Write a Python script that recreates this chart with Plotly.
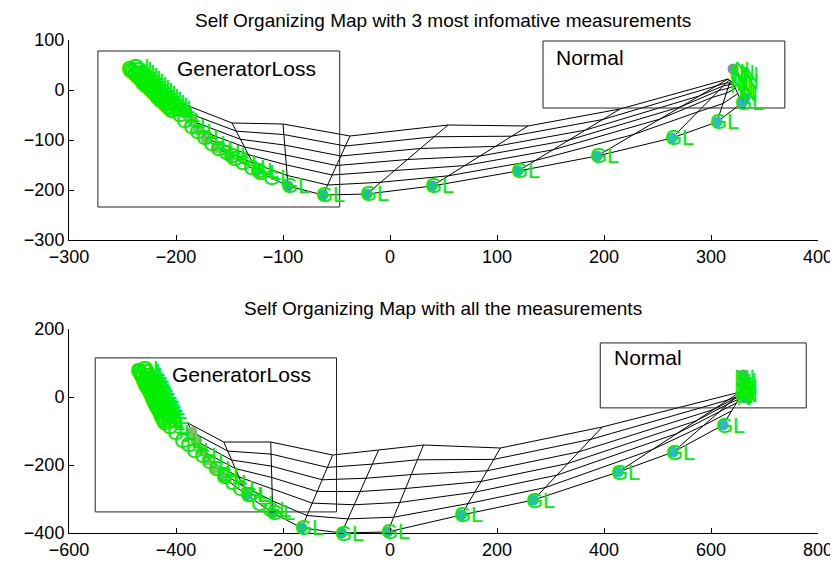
import plotly.graph_objects as go

FONT_FAMILY = "Liberation Sans, Arial, sans-serif"
GREEN = "#00ee00"

# the page body has an 8px margin, so the figure is laid out from (8, 8)
FIG_W = 830
FIG_H = 557
OFFSET = 8

TITLE_TOP = "Self Organizing Map with 3 most infomative measurements"
TITLE_BOTTOM = "Self Organizing Map with all the measurements"

# SOM grid, 7 rows x 11 columns; row 0 = upper edge of the map, row 6 = lower edge
TOP_GRID_X = [
    [-193, -147.7, -100, -37.4, 54.2, 129, 215, 316, 317, 318, 320],
    [-190, -143.7, -99.2, -41.7, 41.3, 113.8, 198.8, 303.8, 314.3, 317.4, 320.5],
    [-185, -139.7, -98.4, -46, 28.5, 98.5, 182.6, 289, 311.7, 316.8, 320.9],
    [-179, -136, -97.6, -50, 16.4, 84.2, 167.3, 271.9, 307.4, 315.8, 321.6],
    [-172, -132.3, -96.9, -54, 4.2, 69.8, 152, 252.3, 301, 314.3, 322.7],
    [-162, -128.3, -96.1, -58.3, -8.6, 54.5, 135.8, 227.8, 287.6, 311.2, 325],
    [-149.5, -124.3, -95.3, -62.6, -21.5, 39.3, 119.6, 193.5, 263.6, 305.6, 329],
]
TOP_GRID_Y = [
    [-28, -66, -68, -92, -70, -72, -38, 22, 20, 18, 16],
    [-45, -82.3, -89.1, -112, -93.5, -92.4, -59, 6.6, 14.2, 13.9, 13.9],
    [-62, -98.6, -110.2, -132, -117, -112.8, -80.2, -11.9, 8.4, 9.8, 11.8],
    [-80, -114, -130, -151, -139, -132, -100, -33.4, -0.9, 3.2, 8.4],
    [-97, -129.4, -149.8, -170, -161, -151.2, -119.8, -58.1, -14.8, -6.6, 3.4],
    [-115, -145.7, -170.9, -190, -184.5, -171.6, -141, -88.9, -43.8, -27.1, -7.1],
    [-132, -162, -192, -210, -208, -192, -162, -132, -96, -64, -26],
]

BOTTOM_GRID_X = [
    [-377.9, -310.7, -222.9, -107.2, -21.3, 62.7, 206.4, 396.8, 654.4, 656, 658],
    [-370, -303.4, -222.3, -117, -33, 51.3, 194, 374.9, 631.6, 649.7, 656.2],
    [-362, -296.1, -221.6, -126.9, -44.8, 39.9, 181.7, 353, 604.3, 643.3, 654.5],
    [-352, -289.2, -221, -136.1, -55.9, 29.1, 170, 332.4, 572.4, 633.2, 651.6],
    [-342, -282.3, -220.5, -145.3, -66.9, 18.3, 158.4, 311.8, 536, 618, 647.4],
    [-328, -275, -219.8, -155.2, -78.7, 6.9, 146, 289.9, 490.5, 586.4, 638.6],
    [-312.5, -267.7, -219.2, -165, -90.4, -4.5, 133.6, 268, 426.7, 529.4, 622.7],
]
BOTTOM_GRID_Y = [
    [-76.5, -132.4, -132.4, -170.6, -155.9, -141.2, -150, -88.2, 14.7, 12, 10],
    [-103, -158.9, -167.9, -207, -197.4, -184.7, -183.5, -124.7, -8.8, 3.3, 5.4],
    [-130, -185.3, -203.3, -243.5, -238.9, -228.2, -217, -161.2, -37.1, -5.4, 0.8],
    [-158, -210.2, -236.7, -277.8, -278, -269.1, -248.5, -195.6, -70, -19.3, -6.6],
    [-185, -235.1, -270.1, -312.1, -317, -310, -280, -230, -107.7, -40.1, -17.7],
    [-210, -261.5, -305.5, -348.6, -358.5, -353.5, -313.5, -266.5, -154.7, -83.6, -40.8],
    [-235, -288, -341, -385, -400, -397, -347, -303, -220.6, -161.8, -82.4],
]

# GeneratorLoss samples piled up in the left cluster
TOP_GL_X = [-245, -243.5, -242, -240.5, -239, -237.5, -236, -235, -234, -232.5, -231, -229.5, -228, -226.5,
            -225, -223.5, -222, -221, -220, -218.5, -217, -215.5, -214, -212.5, -211, -209.5, -208, -207, -206,
            -239, -236, -234, -231, -228, -225, -222, -220, -217, -214, -211, -208, -206, -203, -200,
            -198, -193, -187, -181, -175, -168, -162, -154, -147, -139, -131, -122, -112]
TOP_GL_Y = [42, 39, 36, 33, 30, 27, 24, 21, 18, 15, 12, 9, 6, 3,
            0, -3, -6, -9, -12, -15, -18, -21, -24, -27, -30, -33, -36, -39, -42,
            46, 40, 34, 28, 22, 16, 10, 4, -2, -8, -14, -20, -26, -32, -38,
            -50, -62, -74, -84, -96, -108, -118, -126, -138, -146, -156, -166, -176]
BOTTOM_GL_X = [-473, -471, -469, -468, -466, -464, -462, -460, -458, -456, -454, -453, -451, -449,
               -447, -445, -443, -441, -440, -438, -436, -434, -432, -430, -428, -426, -425,
               -462, -458, -454, -451, -447, -443, -440, -436, -432, -428, -425, -421, -417,
               -415, -404, -391, -380, -369, -354, -341, -328, -313, -298, -283, -266, -247, -227]
BOTTOM_GL_Y = [79, 74, 68, 62, 56, 50, 44, 38, 32, 27, 21, 15, 9, 3,
               -3, -9, -15, -21, -27, -33, -38, -44, -50, -56, -62, -68, -74,
               85, 74, 62, 50, 38, 27, 15, 3, -9, -21, -32, -44, -56,
               -88, -103, -127, -141, -156, -171, -191, -209, -229, -250, -268, -288, -312, -332]

# Normal samples
TOP_N_X = [316, 318, 320, 322, 324, 326, 328, 329, 317, 321, 325, 329]
TOP_N_Y = [36, 28, 20, 12, 4, -4, -10, 30, 8, 40, 34, 16]
BOTTOM_N_X = [641, 644, 647, 650, 653, 656, 642, 648, 654, 645, 651, 656]
BOTTOM_N_Y = [56, 46, 36, 26, 16, 6, 20, 4, 50, 0, 58, 30]

# extra map units inside the Normal cluster
TOP_NORMAL_UNIT_X = [320.6, 331.8]
TOP_NORMAL_UNIT_Y = [42, -16]
BOTTOM_NORMAL_UNIT_X = [660, 664]
BOTTOM_NORMAL_UNIT_Y = [65, -3]

EDGE_UNIT_COLORS = ["#5fbf6f", "#30c27a", "#22c080", "#1fc08a", "#1fc094", "#20c09c",
                    "#22c0a6", "#25bfb0", "#2abfc0", "#30b8cc", "#3aaedc"]
LEFT_UNIT_COLOR = "#8fb77a"
NORMAL_UNIT_COLORS = ["#8a80e6", "#3a9fe0"]


def px_x(p):
    return (p - OFFSET) / FIG_W


def px_y(p):
    return 1 - (p - OFFSET) / FIG_H


def mesh_lines(gx, gy):
    xs, ys = [], []
    for r in range(len(gx)):
        xs += gx[r] + [None]
        ys += gy[r] + [None]
    for c in range(len(gx[0])):
        xs += [row[c] for row in gx] + [None]
        ys += [row[c] for row in gy] + [None]
    return xs, ys


def add_som(fig, gx, gy, gl_x, gl_y, n_x, n_y, nu_x, nu_y, xref, yref):
    lx, ly = mesh_lines(gx, gy)
    fig.add_trace(go.Scatter(x=lx, y=ly, mode="lines", xaxis=xref, yaxis=yref,
                             line=dict(color="black", width=1), hoverinfo="skip"))

    unit_x = [row[0] for row in gx[1:6]] + gx[6] + nu_x
    unit_y = [row[0] for row in gy[1:6]] + gy[6] + nu_y
    colors = [LEFT_UNIT_COLOR] * 5 + EDGE_UNIT_COLORS + NORMAL_UNIT_COLORS
    fig.add_trace(go.Scatter(x=unit_x, y=unit_y, mode="markers", xaxis=xref, yaxis=yref,
                             marker=dict(size=11, color=colors, line=dict(width=0)),
                             cliponaxis=False, hoverinfo="skip"))

    ax = "x" if xref == "x" else "x2"
    ay = "y" if yref == "y" else "y2"
    # GL labels at the lower edge units and at all cluster samples
    for x, y in zip(gl_x + gx[6], gl_y + gy[6]):
        fig.add_annotation(x=x, y=y, xref=ax, yref=ay, text="GL", showarrow=False,
                           xanchor="left", yanchor="middle", xshift=-8, borderpad=0,
                           font=dict(family=FONT_FAMILY, size=22, color=GREEN))
    for x, y in zip(n_x, n_y):
        fig.add_annotation(x=x, y=y, xref=ax, yref=ay, text="N", showarrow=False,
                           xanchor="left", yanchor="middle", borderpad=0,
                           font=dict(family=FONT_FAMILY, size=22, color=GREEN))


def add_box(fig, x0, x1, y0, y1, tx, ty, text, xref, yref):
    fig.add_shape(type="rect", x0=x0, x1=x1, y0=y0, y1=y1, xref=xref, yref=yref,
                  line=dict(color="#222222", width=1), fillcolor="rgba(0,0,0,0)")
    fig.add_annotation(x=tx, y=ty, xref=xref, yref=yref, text=text, showarrow=False,
                       xanchor="left", yanchor="middle", borderpad=0,
                       font=dict(family=FONT_FAMILY, size=21, color="black"))


def main():
    fig = go.Figure()

    add_som(fig, TOP_GRID_X, TOP_GRID_Y, TOP_GL_X, TOP_GL_Y, TOP_N_X, TOP_N_Y,
            TOP_NORMAL_UNIT_X, TOP_NORMAL_UNIT_Y, "x", "y")
    add_som(fig, BOTTOM_GRID_X, BOTTOM_GRID_Y, BOTTOM_GL_X, BOTTOM_GL_Y, BOTTOM_N_X, BOTTOM_N_Y,
            BOTTOM_NORMAL_UNIT_X, BOTTOM_NORMAL_UNIT_Y, "x2", "y2")

    add_box(fig, -273, -47, 78, -234, -200, 42, "GeneratorLoss", "x", "y")
    add_box(fig, 143, 369, 98, -36, 154, 64, "Normal", "x", "y")
    add_box(fig, -551, -100, 115, -338, -410, 65, "GeneratorLoss", "x2", "y2")
    add_box(fig, 393, 778, 159, -32, 417, 115, "Normal", "x2", "y2")

    fig.add_annotation(x=px_x(443), y=px_y(9), xref="paper", yref="paper", text=TITLE_TOP,
                       showarrow=False, xanchor="center", yanchor="top", borderpad=0,
                       font=dict(family=FONT_FAMILY, size=19, color="black"))
    fig.add_annotation(x=px_x(443), y=px_y(308), xref="paper", yref="paper", text=TITLE_BOTTOM,
                       showarrow=False, xanchor="center", yanchor="middle",
                       font=dict(family=FONT_FAMILY, size=19, color="black"))

    axis_style = dict(showline=True, linecolor="black", linewidth=1, mirror=False,
                      ticks="inside", ticklen=5, tickcolor="black", showgrid=False,
                      zeroline=False, tickfont=dict(family=FONT_FAMILY, size=18, color="black"))

    fig.update_layout(
        template="none",
        width=FIG_W, height=FIG_H,
        margin=dict(l=0, r=0, t=0, b=0),
        paper_bgcolor="white", plot_bgcolor="rgba(0,0,0,0)",
        showlegend=False,
        xaxis=dict(domain=[px_x(69), px_x(818)], range=[-300, 400], dtick=100, anchor="y", **axis_style),
        yaxis=dict(domain=[px_y(240), px_y(40)], range=[-300, 100], dtick=100, anchor="x", **axis_style),
        xaxis2=dict(domain=[px_x(69), px_x(818)], range=[-600, 800], dtick=200, anchor="y2", **axis_style),
        yaxis2=dict(domain=[px_y(533), px_y(329)], range=[-400, 200], dtick=200, anchor="x2", **axis_style),
    )

    fig.write_html("out.html")


if __name__ == '__main__':
    main()
